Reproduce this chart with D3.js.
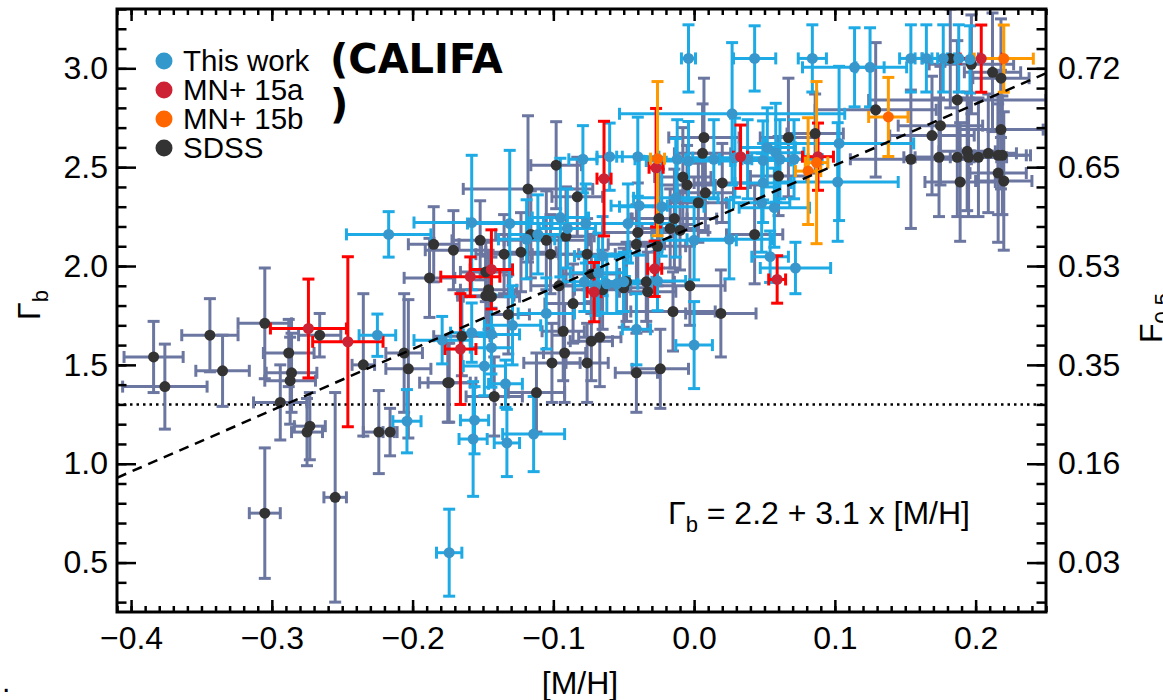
<!DOCTYPE html>
<html lang="en">
<head>
<meta charset="UTF-8">
<title>Gamma_b vs [M/H]</title>
<style>
    body { margin: 0; padding: 0; background: #fff; }
    svg text { font-family: "Liberation Sans", Arial, sans-serif; fill: #000; }
    .califa { font-family: "DejaVu Sans", sans-serif; font-weight: bold; }
</style>
</head>
<body>
<svg id="chart" width="1163" height="700"></svg>
<script src="https://d3js.org/d3.v7.min.js"></script>
<script>
// each row: [M/H], Gamma_b, error in [M/H], error in Gamma_b
var thisWork = [
    [-0.217, 2.16, 0.030, 0.115], [-0.225, 1.65, 0.013, 0.107], [-0.179, 1.625, 0.020, 0.12],
    [-0.204, 1.215, 0.010, 0.16], [-0.156, 1.22, 0.010, 0.17], [-0.157, 1.125, 0.010, 0.29],
    [-0.133, 1.105, 0.009, 0.17], [-0.114, 1.15, 0.022, 0.19], [-0.174, 0.55, 0.009, 0.22],
    [0.027, 2.77, 0.080, 0.36], [-0.158, 2.22, 0.041, 0.34], [-0.131, 2.215, 0.030, 0.37],
    [-0.095, 2.245, 0.020, 0.30], [-0.090, 2.19, 0.020, 0.20], [-0.077, 2.215, 0.030, 0.20],
    [-0.111, 2.16, 0.020, 0.20], [-0.119, 2.135, 0.020, 0.20], [-0.079, 2.54, 0.010, 0.17],
    [-0.060, 2.553, 0.009, 0.17], [-0.040, 2.553, 0.015, 0.20], [-0.047, 2.215, 0.030, 0.20],
    [-0.039, 2.305, 0.020, 0.25], [-0.023, 2.30, 0.030, 0.25], [-0.013, 2.345, 0.030, 0.30],
    [0.000, 2.13, 0.030, 0.20], [0.025, 2.135, 0.030, 0.20], [0.048, 2.32, 0.020, 0.25],
    [0.057, 2.295, 0.025, 0.20], [0.052, 2.60, 0.020, 0.20], [0.058, 2.573, 0.020, 0.25],
    [0.061, 2.54, 0.020, 0.20], [0.049, 2.534, 0.020, 0.20], [0.071, 2.54, 0.020, 0.20],
    [0.054, 2.047, 0.013, 0.13], [0.072, 1.99, 0.025, 0.13], [0.029, 2.548, 0.030, 0.20],
    [0.038, 2.54, 0.020, 0.20], [0.014, 2.54, 0.020, 0.20], [-0.004, 2.531, 0.030, 0.20],
    [-0.012, 2.54, 0.030, 0.20], [-0.065, 2.05, 0.020, 0.20], [-0.068, 1.966, 0.020, 0.20],
    [-0.078, 1.92, 0.015, 0.15], [-0.070, 1.90, 0.015, 0.15], [-0.062, 1.91, 0.015, 0.15],
    [-0.055, 1.91, 0.015, 0.15], [-0.050, 1.92, 0.020, 0.15], [-0.026, 1.924, 0.020, 0.15],
    [-0.105, 1.76, 0.020, 0.18], [-0.129, 1.70, 0.020, 0.20], [-0.144, 1.654, 0.020, 0.20],
    [-0.158, 1.663, 0.015, 0.15], [-0.144, 1.587, 0.015, 0.20], [-0.149, 1.494, 0.015, 0.15],
    [-0.134, 1.404, 0.012, 0.12], [-0.041, 1.68, 0.010, 0.18], [0.000, 1.60, 0.013, 0.22],
    [-0.004, 3.05, 0.005, 0.17], [0.043, 3.05, 0.015, 0.165], [0.084, 3.05, 0.010, 0.17],
    [0.114, 3.005, 0.037, 0.20], [0.125, 3.005, 0.010, 0.20], [0.154, 3.05, 0.008, 0.17],
    [0.165, 3.05, 0.008, 0.17], [0.177, 3.05, 0.008, 0.17], [0.188, 3.05, 0.008, 0.17],
    [0.196, 3.045, 0.008, 0.17], [0.103, 2.62, 0.053, 0.39], [0.102, 2.425, 0.043, 0.30],
    [0.049, 2.42, 0.020, 0.20]
];
var mn15a = [
    [-0.274, 1.684, 0.027, 0.25], [-0.246, 1.617, 0.025, 0.43], [-0.159, 1.946, 0.021, 0.10],
    [-0.144, 1.983, 0.015, 0.20], [-0.166, 1.58, 0.011, 0.28], [-0.064, 2.442, 0.005, 0.29],
    [-0.027, 2.497, 0.005, 0.30], [-0.028, 1.986, 0.005, 0.14], [-0.071, 1.868, 0.005, 0.15],
    [0.059, 1.932, 0.006, 0.12], [0.088, 2.553, 0.011, 0.17], [0.204, 3.049, 0.015, 0.17],
    [0.033, 2.553, 0.005, 0.16]
];
var mn15b = [
    [-0.026, 2.543, 0.005, 0.39], [0.138, 2.754, 0.014, 0.20], [0.220, 3.049, 0.021, 0.17],
    [0.087, 2.523, 0.008, 0.41], [0.081, 2.48, 0.009, 0.27]
];
var sdss = [
    [-0.384, 1.54, 0.021, 0.18], [-0.376, 1.39, 0.030, 0.215], [-0.344, 1.65, 0.020, 0.185],
    [-0.335, 1.47, 0.019, 0.18], [-0.305, 1.71, 0.019, 0.28], [-0.288, 1.56, 0.018, 0.17],
    [-0.286, 1.46, 0.018, 0.20], [-0.287, 1.42, 0.018, 0.22], [-0.294, 1.31, 0.019, 0.19],
    [-0.266, 1.65, 0.015, 0.11], [-0.275, 1.16, 0.011, 0.17], [-0.273, 1.19, 0.011, 0.17],
    [-0.235, 1.50, 0.008, 0.36], [-0.224, 1.16, 0.011, 0.21], [-0.216, 1.16, 0.005, 0.12],
    [-0.206, 1.56, 0.013, 0.30], [-0.203, 1.48, 0.016, 0.35], [-0.188, 1.94, 0.018, 0.20],
    [-0.175, 1.41, 0.020, 0.20], [-0.305, 0.75, 0.011, 0.33], [-0.255, 0.83, 0.008, 0.53],
    [-0.098, 2.51, 0.018, 0.22], [-0.118, 2.39, 0.046, 0.37], [-0.083, 2.35, 0.018, 0.20],
    [-0.185, 2.11, 0.018, 0.19], [-0.171, 2.08, 0.020, 0.20], [-0.152, 2.13, 0.020, 0.20],
    [-0.148, 1.97, 0.018, 0.15], [-0.135, 2.06, 0.020, 0.20], [-0.123, 2.07, 0.025, 0.20],
    [-0.116, 2.16, 0.025, 0.22], [-0.105, 2.13, 0.030, 0.25], [-0.102, 2.06, 0.020, 0.20],
    [-0.091, 2.15, 0.020, 0.25], [-0.076, 2.06, 0.020, 0.18], [-0.146, 1.88, 0.020, 0.20],
    [-0.148, 1.85, 0.020, 0.20], [-0.144, 1.845, 0.020, 0.20], [-0.073, 1.96, 0.020, 0.20],
    [-0.132, 1.755, 0.015, 0.20], [-0.096, 1.90, 0.020, 0.25], [-0.086, 1.81, 0.020, 0.20],
    [-0.093, 1.67, 0.015, 0.25], [-0.092, 1.56, 0.015, 0.25], [-0.073, 1.62, 0.015, 0.20],
    [-0.067, 1.64, 0.015, 0.25], [-0.101, 1.51, 0.020, 0.20], [-0.076, 1.51, 0.015, 0.20],
    [-0.112, 1.36, 0.020, 0.20], [-0.142, 1.34, 0.020, 0.20], [-0.174, 1.41, 0.015, 0.20],
    [-0.165, 1.645, 0.020, 0.20], [-0.065, 1.88, 0.020, 0.20], [-0.048, 1.92, 0.020, 0.20],
    [-0.050, 1.89, 0.020, 0.20], [-0.034, 1.92, 0.020, 0.20], [-0.033, 1.87, 0.020, 0.20],
    [-0.003, 1.90, 0.025, 0.20], [-0.015, 1.77, 0.030, 0.20], [0.019, 1.76, 0.025, 0.22],
    [-0.041, 1.46, 0.015, 0.20], [-0.024, 1.48, 0.020, 0.20], [-0.040, 2.17, 0.025, 0.25],
    [-0.041, 2.11, 0.020, 0.20], [-0.026, 2.10, 0.020, 0.20], [-0.025, 2.24, 0.020, 0.25],
    [-0.014, 2.24, 0.030, 0.25], [-0.017, 2.19, 0.020, 0.20], [-0.010, 2.18, 0.020, 0.20],
    [0.003, 2.32, 0.020, 0.20], [0.008, 2.37, 0.020, 0.20], [-0.008, 2.45, 0.020, 0.25],
    [-0.005, 2.41, 0.020, 0.20], [0.020, 2.42, 0.020, 0.20], [0.006, 2.57, 0.020, 0.25],
    [0.007, 2.65, 0.025, 0.30], [0.043, 2.16, 0.020, 0.25], [0.067, 2.65, 0.020, 0.30],
    [0.060, 2.455, 0.020, 0.20], [0.086, 2.67, 0.020, 0.20], [0.129, 2.79, 0.043, 0.34],
    [0.154, 2.54, 0.043, 0.35], [0.169, 2.66, 0.030, 0.30], [0.175, 2.71, 0.030, 0.30],
    [0.174, 2.55, 0.025, 0.30], [0.187, 2.84, 0.063, 0.30], [0.187, 2.55, 0.030, 0.30],
    [0.189, 2.425, 0.025, 0.30], [0.194, 2.58, 0.020, 0.30], [0.195, 2.55, 0.020, 0.30],
    [0.202, 2.55, 0.020, 0.30], [0.209, 2.57, 0.020, 0.30], [0.216, 2.56, 0.020, 0.30],
    [0.219, 2.56, 0.020, 0.30], [0.216, 2.47, 0.020, 0.35], [0.220, 2.43, 0.020, 0.35],
    [0.218, 2.69, 0.030, 0.30], [0.197, 3.02, 0.030, 0.25], [0.212, 2.98, 0.020, 0.30],
    [0.218, 2.95, 0.020, 0.30], [0.182, 3.05, 0.020, 0.25]
];

var xTicks = [-0.4, -0.3, -0.2, -0.1, 0.0, 0.1, 0.2];
var yTicks = [0.5, 1.0, 1.5, 2.0, 2.5, 3.0];
var fTickLabels = ["0.03", "0.16", "0.35", "0.53", "0.65", "0.72"];
var legendNames = ["This work", "MN+ 15a", "MN+ 15b", "SDSS"];
var fitIntercept = 2.2, fitSlope = 3.1;
var gammaLimit = 1.3;

var pLeft = 117, pRight = 1046, pTop = 9, pBottom = 612;
var svg = d3.select("#chart");

var x = d3.scaleLinear().domain([-0.41, 0.25]).range([pLeft, pRight]);
var y = d3.scaleLinear().domain([0.25, 3.3]).range([pBottom, pTop]);

// series styles: bars, markers
var series = [
    {data: sdss, bar: "#6b77a0", dot: "#333333"},
    {data: thisWork, bar: "#1eaae4", dot: "#3797cc"},
    {data: mn15a, bar: "#ff0000", dot: "#cc2233"},
    {data: mn15b, bar: "#ff9900", dot: "#ff6600"}
];
var legendColors = ["#3399cc", "#cc2233", "#ff6600", "#333333"];

svg.append("clipPath").attr("id", "plotclip")
    .append("rect").attr("x", pLeft).attr("y", pTop)
    .attr("width", pRight - pLeft).attr("height", pBottom - pTop);

var plot = svg.append("g").attr("clip-path", "url(#plotclip)");

// dotted limit line
plot.append("line")
    .attr("x1", x(-0.41)).attr("x2", x(0.25))
    .attr("y1", y(gammaLimit)).attr("y2", y(gammaLimit))
    .attr("stroke", "#000").attr("stroke-width", 2.5)
    .attr("stroke-dasharray", "2.5,4");

var cap = 6;
series.forEach(function (s) {
    var g = plot.append("g").attr("stroke", s.bar).attr("stroke-width", 3);
    s.data.forEach(function (d) {
        var cx = x(d[0]), cy = y(d[1]);
        var x0 = x(d[0] - d[2]), x1 = x(d[0] + d[2]);
        var y0 = y(d[1] - d[3]), y1 = y(d[1] + d[3]);
        g.append("line").attr("x1", x0).attr("x2", x1).attr("y1", cy).attr("y2", cy);
        g.append("line").attr("x1", cx).attr("x2", cx).attr("y1", y0).attr("y2", y1);
        g.append("line").attr("x1", x0).attr("x2", x0).attr("y1", cy - cap).attr("y2", cy + cap);
        g.append("line").attr("x1", x1).attr("x2", x1).attr("y1", cy - cap).attr("y2", cy + cap);
        g.append("line").attr("x1", cx - cap).attr("x2", cx + cap).attr("y1", y0).attr("y2", y0);
        g.append("line").attr("x1", cx - cap).attr("x2", cx + cap).attr("y1", y1).attr("y2", y1);
    });
});

series.forEach(function (s) {
    plot.append("g").selectAll("circle")
        .data(s.data).enter().append("circle")
        .attr("cx", function (d) { return x(d[0]); })
        .attr("cy", function (d) { return y(d[1]); })
        .attr("r", 5.5)
        .attr("fill", s.dot);
});

// fit line
plot.append("line")
    .attr("x1", x(-0.41)).attr("x2", x(0.25))
    .attr("y1", y(fitIntercept + fitSlope * -0.41))
    .attr("y2", y(fitIntercept + fitSlope * 0.25))
    .attr("stroke", "#000").attr("stroke-width", 2.5)
    .attr("stroke-dasharray", "10,7");

// axes
var xMinor = d3.range(-41, 26).map(function (i) { return i / 100; });
var yMinor = d3.range(3, 34).map(function (i) { return i / 10; });
var fmt = d3.format(".1f");

function styleAxis(g, size) {
    g.select(".domain").remove();
    g.selectAll(".tick line").attr("stroke", "#000").attr("stroke-width", 2.5);
    g.selectAll(".tick text").style("font-size", size + "px")
        .style("font-family", "'Liberation Sans', Arial, sans-serif").attr("fill", "#000");
}

svg.append("g").attr("transform", "translate(0," + pBottom + ")")
    .call(d3.axisBottom(x).tickValues(xMinor).tickFormat("").tickSize(-6))
    .call(styleAxis, 32);
svg.append("g").attr("transform", "translate(0," + pBottom + ")")
    .call(d3.axisBottom(x).tickValues(xTicks).tickFormat(fmt).tickSize(-12).tickPadding(14))
    .call(styleAxis, 32);
svg.append("g").attr("transform", "translate(0," + pTop + ")")
    .call(d3.axisTop(x).tickValues(xMinor).tickFormat("").tickSize(-6))
    .call(styleAxis, 32);
svg.append("g").attr("transform", "translate(0," + pTop + ")")
    .call(d3.axisTop(x).tickValues(xTicks).tickFormat("").tickSize(-12))
    .call(styleAxis, 32);

svg.append("g").attr("transform", "translate(" + pLeft + ",0)")
    .call(d3.axisLeft(y).tickValues(yMinor).tickFormat("").tickSize(-9.5))
    .call(styleAxis, 32);
svg.append("g").attr("transform", "translate(" + pLeft + ",0)")
    .call(d3.axisLeft(y).tickValues(yTicks).tickFormat(fmt).tickSize(-19).tickPadding(9))
    .call(styleAxis, 32);
svg.append("g").attr("transform", "translate(" + pRight + ",0)")
    .call(d3.axisRight(y).tickValues(yMinor).tickFormat("").tickSize(-9.5))
    .call(styleAxis, 32);
svg.append("g").attr("transform", "translate(" + pRight + ",0)")
    .call(d3.axisRight(y).tickValues(yTicks)
        .tickFormat(function (d, i) { return fTickLabels[i]; })
        .tickSize(-19).tickPadding(12))
    .call(styleAxis, 32);

svg.append("rect")
    .attr("x", pLeft).attr("y", pTop)
    .attr("width", pRight - pLeft).attr("height", pBottom - pTop)
    .attr("fill", "none").attr("stroke", "#000").attr("stroke-width", 3);

// axis titles
svg.append("text").attr("x", 580).attr("y", 694)
    .attr("text-anchor", "middle").style("font-size", "32px").text("[M/H]");

var yl = svg.append("text").attr("transform", "translate(40,305) rotate(-90)")
    .attr("text-anchor", "middle").style("font-size", "32px");
yl.append("tspan").text("Γ");
yl.append("tspan").attr("dy", 8).style("font-size", "22px").text("b");

var fl = svg.append("text").attr("transform", "translate(1162,318) rotate(-90)")
    .attr("text-anchor", "middle").style("font-size", "32px");
fl.append("tspan").text("F");
fl.append("tspan").attr("dy", 8).style("font-size", "22px").text("0.5");

svg.append("text").attr("x", 2).attr("y", 692).style("font-size", "30px").text(".");

// fit annotation
var ann = svg.append("text").attr("x", 668).attr("y", 524).style("font-size", "32px");
ann.append("tspan").text("Γ");
ann.append("tspan").attr("dy", 8).style("font-size", "22px").text("b");
ann.append("tspan").attr("dy", -8).text(" = 2.2 + 3.1 x [M/H]");

// legend
var leg = svg.append("g");
legendNames.forEach(function (name, i) {
    var ly = 61 + i * 29;
    leg.append("circle").attr("cx", 164).attr("cy", ly).attr("r", 8.5).attr("fill", legendColors[i]);
    leg.append("text").attr("x", 183).attr("y", ly + 10).style("font-size", "29.5px").text(name);
});

svg.append("text").attr("class", "califa").attr("x", 330).attr("y", 73)
    .style("font-size", "40px").text("(CALIFA");
svg.append("text").attr("class", "califa").attr("x", 330).attr("y", 118)
    .style("font-size", "40px").text(")");
</script>
</body>
</html>
